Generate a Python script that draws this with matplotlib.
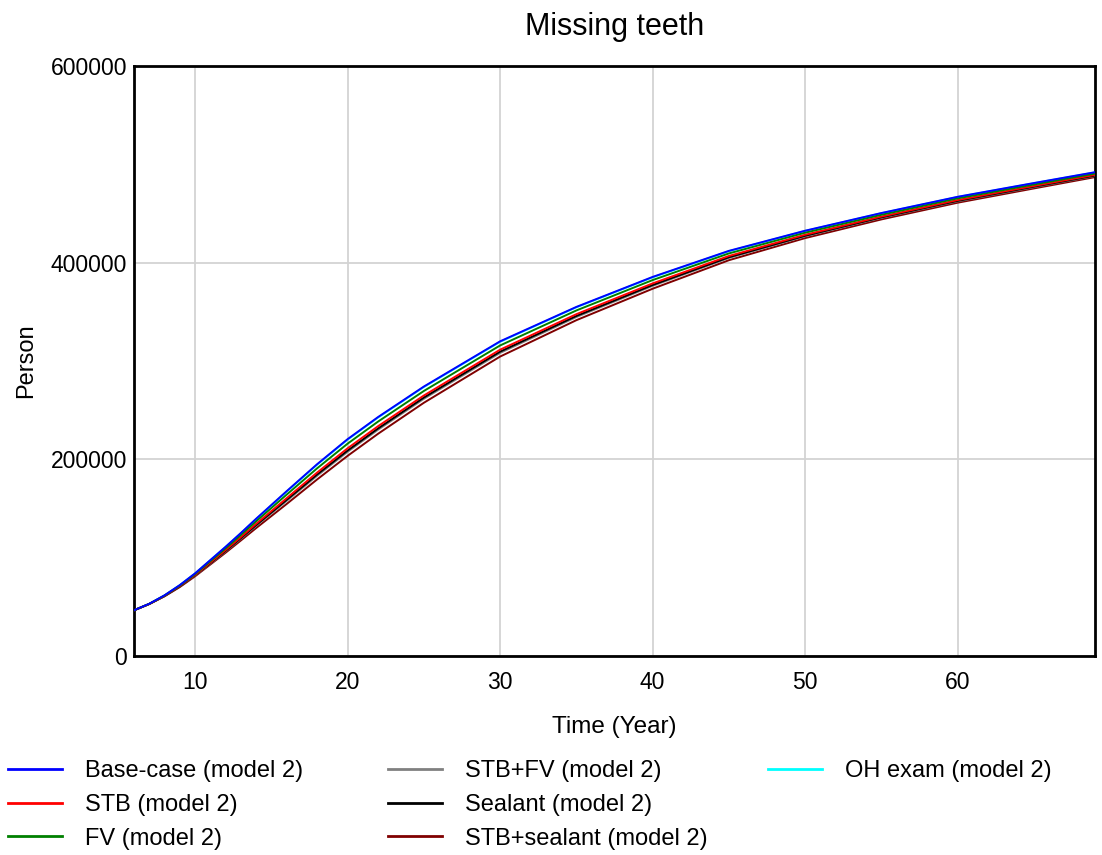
import matplotlib
matplotlib.use("Agg")
import matplotlib.pyplot as plt
from matplotlib.lines import Line2D

plt.rcParams['font.family'] = ['Liberation Sans', 'DejaVu Sans']

years = [6, 7, 8, 9, 10, 11, 12, 13, 14, 16, 18, 20, 22, 25, 30, 35, 40, 45, 50, 55, 60, 65, 69]

base_case = [46.5, 53.1, 61.7, 72.1, 84.0, 97.5, 111.0, 125.0, 139.5, 167.5, 195.0, 220.5, 243.0, 274.0,
             320.0, 355.0, 385.5, 412.0, 432.5, 450.5, 467.0, 481.0, 492.0]
stb = [46.5, 52.9, 61.2, 71.1, 82.4, 95.0, 107.7, 120.8, 134.3, 160.4, 186.5, 211.2, 233.7, 264.9,
       311.5, 347.6, 378.9, 406.8, 428.4, 446.9, 463.7, 478.0, 489.3]
fv = [46.5, 53.0, 61.4, 71.6, 83.2, 96.3, 109.4, 123.0, 136.9, 164.0, 190.8, 215.9, 238.4, 269.5,
      315.8, 351.4, 382.3, 409.4, 430.5, 448.7, 465.4, 479.5, 490.6]
stb_fv = [46.5, 52.9, 60.9, 70.6, 81.7, 94.0, 106.4, 119.2, 132.3, 157.6, 183.2, 207.6, 230.1, 261.5,
          308.2, 344.7, 376.4, 404.8, 426.8, 445.6, 462.4, 476.8, 488.2]
sealant = [46.5, 52.9, 61.0, 70.7, 82.0, 94.4, 106.9, 119.8, 133.0, 158.7, 184.5, 208.9, 231.4, 262.8,
           309.5, 345.8, 377.3, 405.5, 427.4, 446.1, 462.9, 477.3, 488.6]
stb_sealant = [46.5, 52.8, 60.7, 70.1, 81.0, 93.0, 105.0, 117.4, 130.0, 154.5, 179.5, 203.5, 226.0, 257.5,
               304.5, 341.5, 373.5, 402.5, 425.0, 444.0, 461.0, 475.5, 487.0]
oh_exam = [46.5, 53.1, 61.7, 72.0, 83.9, 97.3, 110.8, 124.8, 139.2, 167.1, 194.5, 220.0, 242.5, 273.5,
           319.5, 354.6, 385.1, 411.7, 432.3, 450.3, 466.8, 480.8, 491.8]

labels = ["Base-case (model 2)", "STB (model 2)", "FV (model 2)",
          "STB+FV (model 2)", "Sealant (model 2)", "STB+sealant (model 2)",
          "OH exam (model 2)"]
series = [base_case, stb, fv, stb_fv, sealant, stb_sealant, oh_exam]
colors = ["#0000ff", "#ff0000", "#008000", "#808080", "#000000", "#800000", "#00ffff"]
zorders = [9, 5, 6, 3, 4, 2, 1]

x_ticks = [10, 20, 30, 40, 50, 60]
y_ticks = [0, 200000, 400000, 600000]

W, H = 1102, 855
fig = plt.figure(figsize=(W / 100, H / 100), dpi=100)
ax = fig.add_axes([134 / W, 1 - 656 / H, (1095 - 134) / W, (656 - 66) / H])

for vals, c, z in zip(series, colors, zorders):
    ax.plot(years, [v * 1000 for v in vals], color=c, lw=1.4, zorder=z)

ax.set_xlim(6, 69)
ax.set_ylim(0, 600000)
ax.set_xticks(x_ticks)
ax.set_yticks(y_ticks)
ax.set_xticklabels([str(t) for t in x_ticks])
ax.set_yticklabels([str(t) for t in y_ticks])
ax.tick_params(axis="x", length=0, labelsize=16.5, pad=11)
ax.tick_params(axis="y", length=0, labelsize=16.5, pad=5)
ax.grid(True, color="#d3d3d3", lw=1.3)
ax.set_axisbelow(True)
for s in ax.spines.values():
    s.set_linewidth(2)
    s.set_color("black")

ax.set_title("Missing teeth", fontsize=22, pad=22)
ax.set_xlabel("Time (Year)", fontsize=17.5, labelpad=16)
ax.set_ylabel("Person", fontsize=17, labelpad=10)

handles = [Line2D([], [], color=c, lw=2) for c in colors]
col_x = [8 / W, 388 / W, 768 / W]
groups = [[0, 1, 2], [3, 4, 5], [6]]
for cx, g in zip(col_x, groups):
    fig.legend([handles[i] for i in g], [labels[i] for i in g],
               loc="upper left", bbox_to_anchor=(cx, 1 - 760 / H),
               frameon=False, fontsize=17, handlelength=2.3, handletextpad=0.95,
               labelspacing=0.5, borderaxespad=0, borderpad=0)

fig.savefig("out.png", dpi=100)
